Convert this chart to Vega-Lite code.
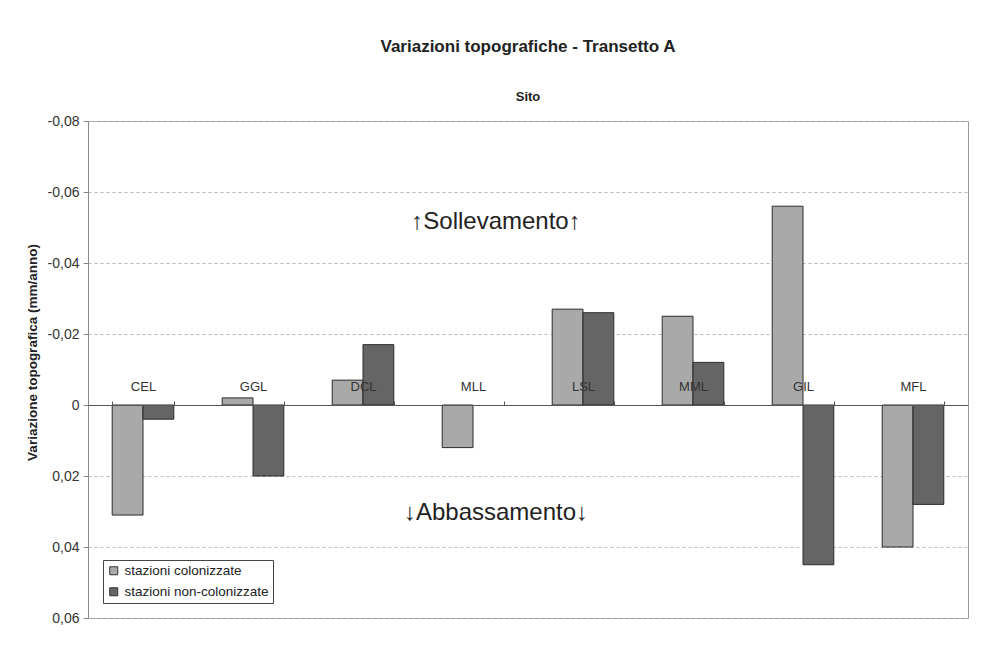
{
  "$schema": "https://vega.github.io/schema/vega-lite/v6.json",
  "width": 880,
  "height": 497,
  "padding": {"left": 25, "top": 38, "right": 10, "bottom": 10},
  "background": "white",
  "config": {
    "font": "Liberation Sans",
    "view": {"stroke": "#999999", "strokeWidth": 1}
  },
  "title": {
    "text": "Variazioni topografiche - Transetto A",
    "subtitle": "Sito",
    "fontSize": 17,
    "fontWeight": "bold",
    "color": "#222222",
    "subtitleFontSize": 13,
    "subtitleFontWeight": "bold",
    "subtitleColor": "#222222",
    "subtitlePadding": 35,
    "offset": 9,
    "anchor": "middle"
  },
  "data": {
    "values": [
      {"sito": "CEL", "serie": "stazioni colonizzate", "valore": 0.031},
      {"sito": "CEL", "serie": "stazioni non-colonizzate", "valore": 0.004},
      {"sito": "GGL", "serie": "stazioni colonizzate", "valore": -0.002},
      {"sito": "GGL", "serie": "stazioni non-colonizzate", "valore": 0.020},
      {"sito": "DCL", "serie": "stazioni colonizzate", "valore": -0.007},
      {"sito": "DCL", "serie": "stazioni non-colonizzate", "valore": -0.017},
      {"sito": "MLL", "serie": "stazioni colonizzate", "valore": 0.012},
      {"sito": "LSL", "serie": "stazioni colonizzate", "valore": -0.027},
      {"sito": "LSL", "serie": "stazioni non-colonizzate", "valore": -0.026},
      {"sito": "MML", "serie": "stazioni colonizzate", "valore": -0.025},
      {"sito": "MML", "serie": "stazioni non-colonizzate", "valore": -0.012},
      {"sito": "GIL", "serie": "stazioni colonizzate", "valore": -0.056},
      {"sito": "GIL", "serie": "stazioni non-colonizzate", "valore": 0.045},
      {"sito": "MFL", "serie": "stazioni colonizzate", "valore": 0.040},
      {"sito": "MFL", "serie": "stazioni non-colonizzate", "valore": 0.028}
    ]
  },
  "layer": [
    {
      "mark": {"type": "bar", "stroke": "#2b2b2b", "strokeWidth": 1},
      "encoding": {
        "x": {
          "field": "sito",
          "type": "nominal",
          "scale": {
            "domain": ["CEL", "GGL", "DCL", "MLL", "LSL", "MML", "GIL", "MFL"],
            "paddingInner": 0.44,
            "paddingOuter": 0.22
          },
          "axis": {
            "orient": "top",
            "offset": -284,
            "title": null,
            "labelAngle": 0,
            "labelFontSize": 13,
            "labelColor": "#333333",
            "labelPadding": 8,
            "tickBand": "extent",
            "tickSize": 4,
            "tickColor": "#555555",
            "domainColor": "#555555",
            "grid": false,
            "zindex": 1
          }
        },
        "xOffset": {
          "field": "serie",
          "type": "nominal",
          "sort": ["stazioni colonizzate", "stazioni non-colonizzate"],
          "scale": {"paddingInner": 0, "paddingOuter": 0}
        },
        "y": {
          "field": "valore",
          "type": "quantitative",
          "scale": {"domain": [-0.08, 0.06], "reverse": true, "nice": false},
          "axis": {
            "values": [-0.08, -0.06, -0.04, -0.02, 0, 0.02, 0.04, 0.06],
            "labelExpr": "datum.value == 0 ? '0' : (datum.value < 0 ? '-' : '') + replace(format(abs(datum.value), '.2f'), '.', ',')",
            "labelFontSize": 14,
            "labelColor": "#333333",
            "labelPadding": 4,
            "tickSize": 5,
            "tickColor": "#888888",
            "domainColor": "#888888",
            "grid": true,
            "gridDash": [3, 3],
            "gridColor": "#b8b8b8",
            "title": "Variazione topografica (mm/anno)",
            "titleFontSize": 13.5,
            "titleFontWeight": "bold",
            "titleColor": "#222222",
            "titlePadding": 8,
            "titleY": 231
          }
        },
        "color": {
          "field": "serie",
          "type": "nominal",
          "scale": {
            "domain": ["stazioni colonizzate", "stazioni non-colonizzate"],
            "range": ["#a9a9a9", "#656565"]
          },
          "legend": {
            "orient": "bottom-left",
            "offset": 15,
            "title": null,
            "labelFontSize": 13.5,
            "labelColor": "#222222",
            "symbolType": "square",
            "symbolSize": 64,
            "symbolStrokeColor": "#333333",
            "symbolStrokeWidth": 1,
            "strokeColor": "#444444",
            "fillColor": "white",
            "padding": 4,
            "rowPadding": 6
          }
        }
      }
    },
    {
      "data": {"values": [{}]},
      "mark": {"type": "text", "text": "↑Sollevamento↑", "fontSize": 24, "color": "#222222", "dx": 23},
      "encoding": {
        "x": {"datum": "MLL", "type": "nominal"},
        "y": {"datum": -0.0515, "type": "quantitative"}
      }
    },
    {
      "data": {"values": [{}]},
      "mark": {"type": "text", "text": "↓Abbassamento↓", "fontSize": 24, "color": "#222222", "dx": 23},
      "encoding": {
        "x": {"datum": "MLL", "type": "nominal"},
        "y": {"datum": 0.0304, "type": "quantitative"}
      }
    }
  ]
}
